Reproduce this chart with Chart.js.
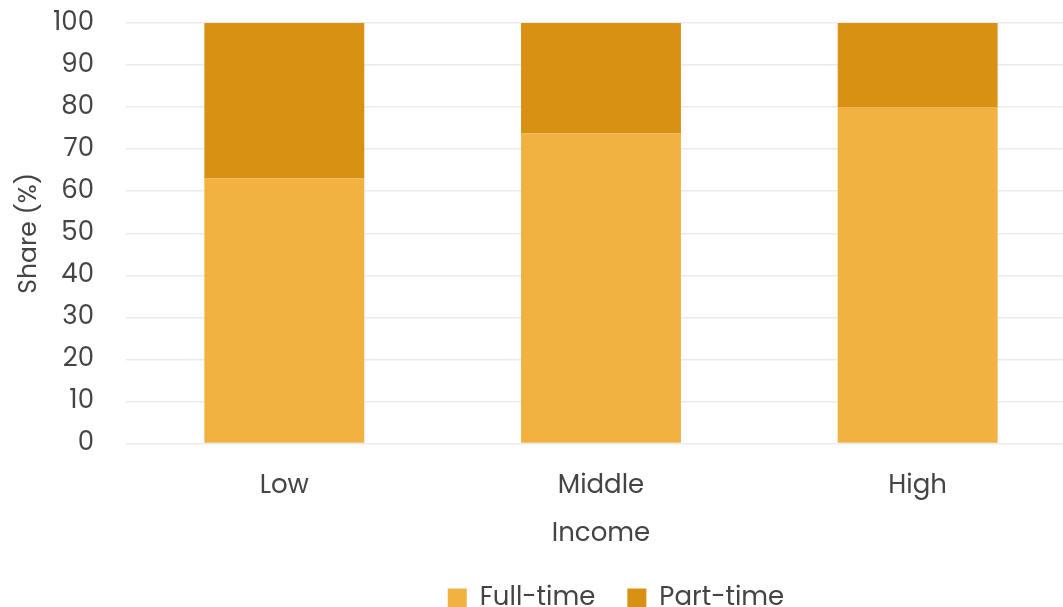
<!DOCTYPE html>
<html>
    <head>
        <meta name="viewport" content="width=device-width, initial-scale=1.0">
        <script src="https://cdn.jsdelivr.net/npm/chart.js"></script>
        <style>
            html, body {
                margin: 0;
                padding: 0;
                background: #ffffff;
                overflow: hidden;
            }
            #wrap {
                position: relative;
                width: 1076px;
                height: 621px;
            }
        </style>
    </head>
    <body>
        <div id="wrap">
            <canvas id="shareChart"></canvas>
        </div>

        <script>
            // Employment share by income group
            const incomeGroups = ['Low', 'Middle', 'High'];
            const fullTime = [63, 73.7, 80];
            const partTime = [37, 26.3, 20];
            const yTicks = [0, 10, 20, 30, 40, 50, 60, 70, 80, 90, 100];

            const textColor = '#444444';
            const fontFamily = "'Poppins', 'Inter', 'Open Sans', sans-serif";

            // nudge the legend a little to the right of the plot centre
            const legendShift = {
                id: 'legendShift',
                afterLayout(chart) {
                    chart.legend.left += 15;
                    chart.legend.right += 15;
                }
            };

            new Chart(document.getElementById('shareChart'), {
                type: 'bar',
                data: {
                    labels: incomeGroups,
                    datasets: [
                        {
                            label: 'Full-time',
                            data: fullTime,
                            backgroundColor: '#F1B242',
                            borderWidth: 0
                        },
                        {
                            label: 'Part-time',
                            data: partTime,
                            backgroundColor: '#D99114',
                            borderWidth: 0
                        }
                    ]
                },
                plugins: [legendShift],
                options: {
                    responsive: true,
                    maintainAspectRatio: false,
                    animation: false,
                    layout: { padding: { top: 23, left: 15, right: 0, bottom: 0 } },
                    datasets: {
                        bar: { barPercentage: 0.505, categoryPercentage: 1.0 }
                    },
                    plugins: {
                        tooltip: { enabled: false },
                        legend: {
                            position: 'bottom',
                            fullSize: false,
                            labels: {
                                color: textColor,
                                font: { family: fontFamily, size: 26 },
                                boxWidth: 19,
                                boxHeight: 19,
                                padding: 32
                            }
                        }
                    },
                    scales: {
                        x: {
                            stacked: true,
                            grid: {
                                color: 'transparent',
                                drawOnChartArea: false,
                                drawTicks: true,
                                tickLength: 22
                            },
                            border: { display: false },
                            ticks: {
                                color: textColor,
                                font: { family: fontFamily, size: 26 },
                                padding: 5
                            },
                            title: {
                                display: true,
                                text: 'Income',
                                color: textColor,
                                font: { family: fontFamily, size: 26 },
                                padding: { top: 12, bottom: 3 }
                            }
                        },
                        y: {
                            stacked: true,
                            min: 0,
                            max: 100,
                            afterBuildTicks: axis => {
                                axis.ticks = yTicks.map(v => ({ value: v }));
                            },
                            grid: {
                                color: '#EBEBEB',
                                lineWidth: 1.5,
                                drawTicks: true,
                                tickLength: 28,
                                tickColor: 'transparent'
                            },
                            border: { display: false },
                            ticks: {
                                color: textColor,
                                font: { family: fontFamily, size: 26 },
                                padding: 4
                            },
                            title: {
                                display: true,
                                text: 'Share (%)',
                                color: textColor,
                                font: { family: fontFamily, size: 25 },
                                padding: { top: 0, bottom: 4 }
                            }
                        }
                    }
                }
            });
        </script>
    </body>
</html>
